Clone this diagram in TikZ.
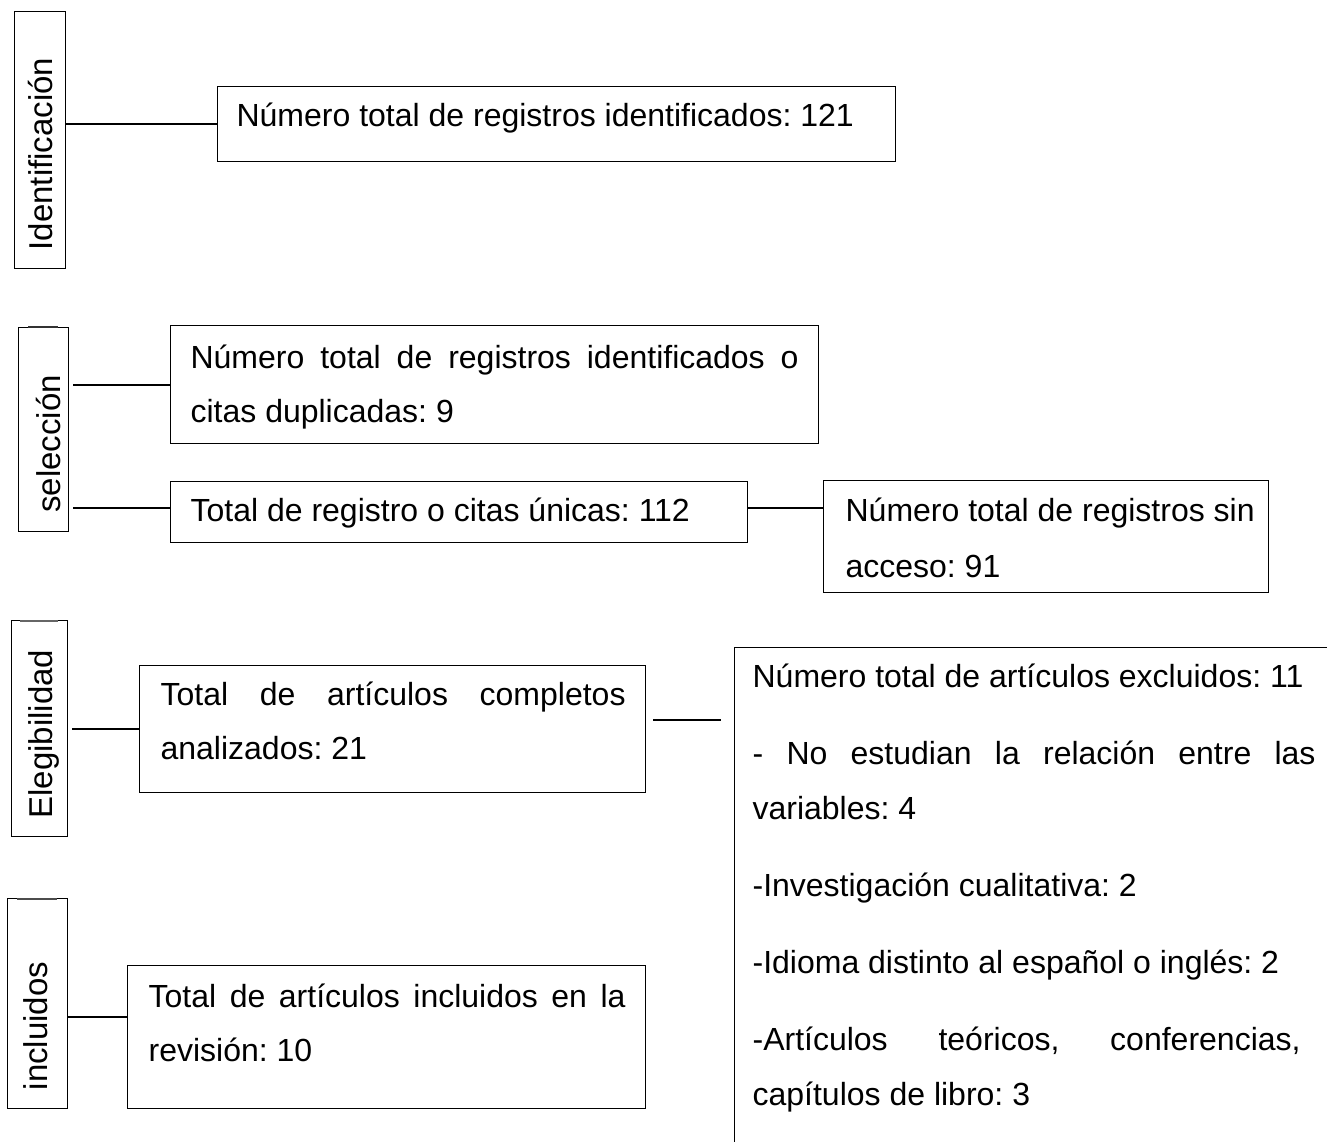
\documentclass[tikz,border=0pt]{standalone}
\usepackage{fontspec}
\setmainfont{Liberation Sans}
\frenchspacing
\begin{document}
\begin{tikzpicture}[x=1pt,y=-1pt,line width=1.2pt,
  box/.style={draw, inner sep=0pt, anchor=north west},
  txt/.style={anchor=base west, inner sep=0pt, font=\fontsize{32}{38}\selectfont},
  side/.style={anchor=base, rotate=90, inner sep=0pt, font=\fontsize{33}{38}\selectfont}]
\useasboundingbox (0,0) rectangle (1327,1142);
\clip (0,0) rectangle (1327,1142);
% side label boxes
\node[box, minimum width=51pt, minimum height=257pt] (lid) at (14,11) {};
\node[box, minimum width=50pt, minimum height=204pt] (lsel) at (18,327) {};
\node[box, minimum width=56pt, minimum height=216pt] (lel) at (11,620) {};
\node[box, minimum width=60pt, minimum height=210pt] (linc) at (7,898) {};
\draw[line width=2.6pt, black!80] (28,327) -- (58,327);
\draw[line width=2.6pt, black!60] (20,621) -- (58,621);
\draw[line width=2.6pt, black!70] (17,899) -- (57,899);
\node[side] (tid) at (52,154) {Identificación};
\node[side] (tsel) at (60,444) {selección};
\node[side] (tel) at (52,734) {Elegibilidad};
\node[side] (tinc) at (47,1026) {incluidos};
% content boxes
\node[box, minimum width=678pt, minimum height=75pt] (b1) at (217,86) {};
\node[box, minimum width=648pt, minimum height=118pt] (b2) at (170,325) {};
\node[box, minimum width=577pt, minimum height=61pt] (b3) at (170,481) {};
\node[box, minimum width=445pt, minimum height=112pt] (b4) at (823,480) {};
\node[box, minimum width=506pt, minimum height=127pt] (b5) at (139,665) {};
\node[box, minimum width=518pt, minimum height=143pt] (b6) at (127,965) {};
\node[box, minimum width=700pt, minimum height=600pt] (big) at (734,647) {};
% texts
\node[txt] (t1) at (236,127) {Número total de registros identificados: 121};
\node[txt] (t2a) at (190,368) {\makebox[608pt][s]{Número total de registros identificados o}};
\node[txt] (t2b) at (190,422) {citas duplicadas: 9};
\node[txt] (t3) at (190,521) {Total de registro o citas únicas: 112};
\node[txt] (t4a) at (845,521) {Número total de registros sin};
\node[txt] (t4b) at (845,577) {acceso: 91};
\node[txt] (t5a) at (160,705) {\makebox[465pt][s]{Total de artículos completos}};
\node[txt] (t5b) at (160,759) {analizados: 21};
\node[txt] (t6a) at (148,1007) {\makebox[477pt][s]{Total de artículos incluidos en la}};
\node[txt] (t6b) at (148,1061) {revisión: 10};
\node[txt] (g1) at (752,687) {Número total de artículos excluidos: 11};
\node[txt] (g2) at (752,764) {\makebox[563pt][s]{- No estudian la relación entre las}};
\node[txt] (g3) at (752,819) {variables: 4};
\node[txt] (g4) at (752,896) {-Investigación cualitativa: 2};
\node[txt] (g5) at (752,973) {-Idioma distinto al español o inglés: 2};
\node[txt] (g6) at (752,1050) {\makebox[548pt][s]{-Artículos teóricos, conferencias,}};
\node[txt] (g7) at (752,1105) {capítulos de libro: 3};
% connectors
\draw (lid.east |- b1.west) -- (b1.west);
\coordinate (s1) at (73,385);
\coordinate (s2) at (73,508);
\draw (s1) -- (s1 -| b2.west);
\draw (s2) -- (s2 -| b3.west);
\draw (b3.east |- s2) -- (b4.west |- s2);
\coordinate (e1) at (72,729);
\draw (e1) -- (e1 -| b5.west);
\coordinate (f1) at (653,720);
\coordinate (f2) at (721,720);
\draw (f1) -- (f2);
\coordinate (i1) at (67,1017);
\draw (linc.east |- i1) -- (i1 -| b6.west);
\end{tikzpicture}
\end{document}
